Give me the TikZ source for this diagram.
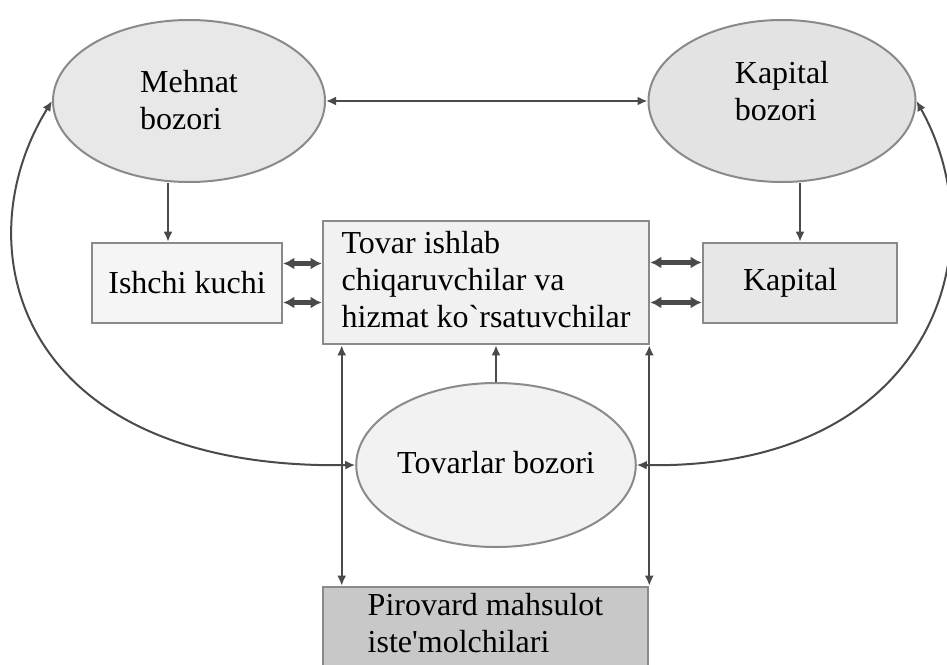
\documentclass[tikz,border=0pt]{standalone}
\usepackage{fontspec}
\setmainfont{Liberation Serif}
\usetikzlibrary{calc,shapes.geometric,arrows.meta}

\definecolor{edgegray}{HTML}{8A8A8A}
\definecolor{linegray}{HTML}{4A4A4A}

\begin{document}
\begin{tikzpicture}[x=0.5pt, y=-0.5pt,
    every node/.style={font=\fontsize{16}{18.5}\selectfont},
    ell/.style={ellipse, draw=edgegray, line width=1pt, inner sep=0pt, align=left},
    box/.style={rectangle, draw=edgegray, line width=1.3pt, inner sep=0pt},
    arr/.style={linegray, line width=1pt, -{Latex[length=5pt, width=4.5pt]}},
    both/.style={linegray, line width=1pt, {Latex[length=5pt, width=4.5pt]}-{Latex[length=5pt, width=4.5pt]}},
    dbl/.style={linegray, line width=2.4pt, {Latex[length=5.5pt, width=6pt]}-{Latex[length=5.5pt, width=6pt]}}]
  \clip (0, 0) rectangle (947, 664);
  \fill[white] (0, 0) rectangle (947, 664);
  % markets
  \node[ell, fill=gray!18, minimum width=136pt, minimum height=81pt, text depth=1pt] (mehnat) at (189, 101) {Mehnat\\bozori};
  \node[ell, fill=gray!22, minimum width=133.5pt, minimum height=81pt, text depth=10pt] (kapbozor) at (782, 101) {Kapital\\bozori};
  \node[ell, fill=gray!10, minimum width=133.5pt, minimum height=82pt, text depth=3pt] (tovbozor) at (496, 465) {Tovarlar bozori};
  % boxes
  \node[box, fill=gray!8, minimum width=95pt, minimum height=40pt] (ishchi) at (187, 283) {Ishchi kuchi};
  \node[box, fill=gray!11, minimum width=163pt, minimum height=61.5pt, align=left, text depth=3pt] (ishlab) at (486, 282.5)
    {Tovar ishlab\\chiqaruvchilar va\\hizmat ko\textasciigrave rsatuvchilar};
  \node[box, fill=gray!19, minimum width=97pt, minimum height=40pt, text width=57pt, inner xsep=20pt, align=left] (kapital) at (800, 283) {Kapital};
  \node[box, fill=gray!43, minimum width=162.5pt, minimum height=40pt, align=left, text depth=4pt] (pirovard) at (485.5, 627)
    {Pirovard mahsulot\\iste\textquotesingle molchilari};
  % helper points
  \coordinate (m1) at ($(ishchi.north)+(-19, 0)$);
  \coordinate (i1) at ($(ishchi.east)+(0, -19.5)$);
  \coordinate (i2) at ($(ishchi.east)+(0, 19.5)$);
  \coordinate (k1) at ($(kapital.west)+(0, -20.5)$);
  \coordinate (k2) at ($(kapital.west)+(0, 19.5)$);
  \coordinate (v1) at ($(ishlab.south west)+(20, 0)$);
  \coordinate (v2) at ($(ishlab.south east)+(-1, 0)$);
  % connectors
  \draw[both] (mehnat.east) -- (kapbozor.west);
  \draw[arr] (m1 |- mehnat.south) -- (m1);
  \draw[arr] (kapital.north |- kapbozor.south) -- (kapital.north);
  \draw[dbl] (i1) -- (i1 -| ishlab.west);
  \draw[dbl] (i2) -- (i2 -| ishlab.west);
  \draw[dbl] (k1 -| ishlab.east) -- (k1);
  \draw[dbl] (k2 -| ishlab.east) -- (k2);
  \draw[arr] (tovbozor.north) -- (tovbozor.north |- ishlab.south);
  \draw[both] (v1) -- (v1 |- pirovard.north);
  \draw[both] (v2) -- (v2 |- pirovard.north);
  \draw[both] (mehnat.west) .. controls (-40, 250) and (20, 470) .. (tovbozor.west);
  \draw[both] (kapbozor.east) .. controls (1000, 250) and (930, 470) .. (tovbozor.east);
\end{tikzpicture}
\end{document}
